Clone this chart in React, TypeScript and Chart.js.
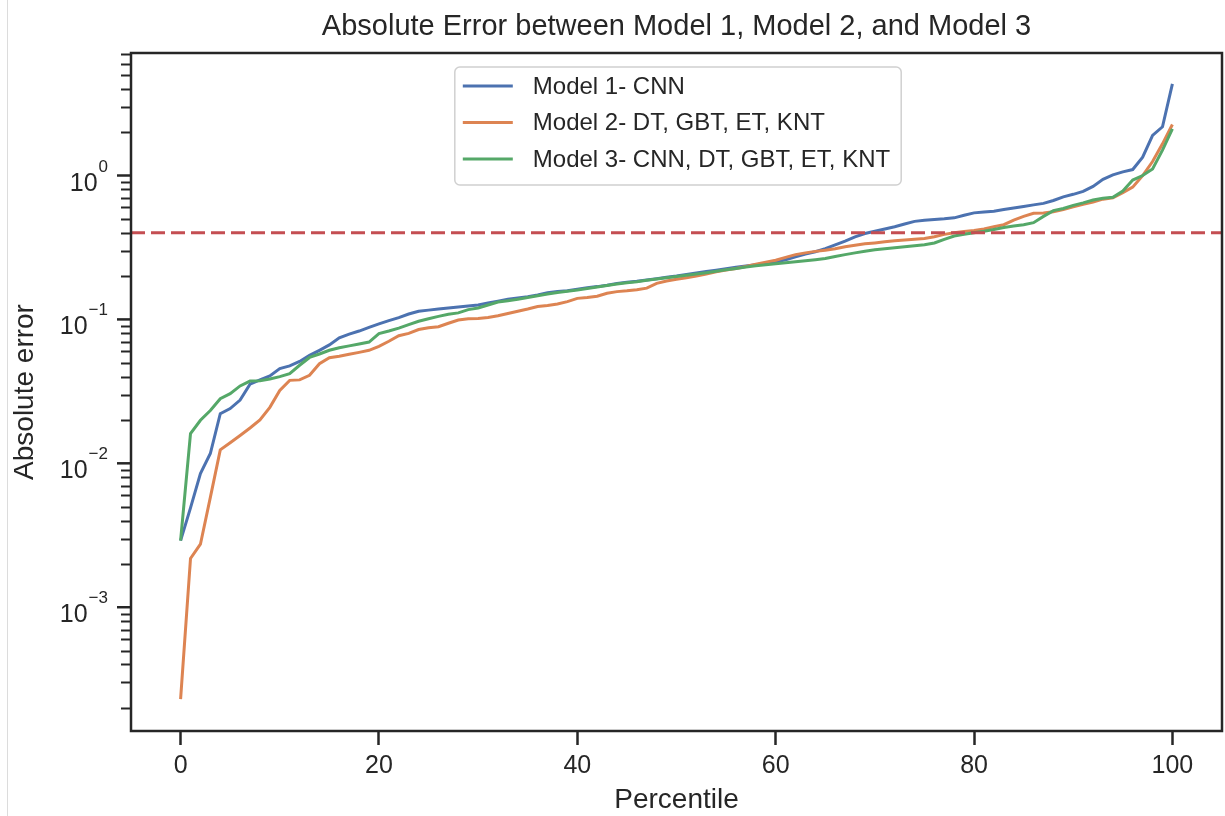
import React, { useEffect, useRef } from "react";
import { Chart, registerables } from "chart.js";

Chart.register(...registerables);

const FONT = "'Liberation Sans', Arial, Helvetica, sans-serif";
const AXIS_COLOR = "#262626";

const TITLE = "Absolute Error between Model 1, Model 2, and Model 3";
const X_TITLE = "Percentile";
const Y_TITLE = "Absolute error";

const PERCENTILES = [
  0, 1, 2, 3, 4, 5, 6, 7, 8, 9, 10, 11, 12, 13, 14, 15, 16, 17, 18, 19,
  20, 21, 22, 23, 24, 25, 26, 27, 28, 29, 30, 31, 32, 33, 34, 35, 36, 37, 38, 39,
  40, 41, 42, 43, 44, 45, 46, 47, 48, 49, 50, 51, 52, 53, 54, 55, 56, 57, 58, 59,
  60, 61, 62, 63, 64, 65, 66, 67, 68, 69, 70, 71, 72, 73, 74, 75, 76, 77, 78, 79,
  80, 81, 82, 83, 84, 85, 86, 87, 88, 89, 90, 91, 92, 93, 94, 95, 96, 97, 98, 99,
  100,
];

const MODEL1 = [
  0.0029, 0.0049, 0.0085, 0.0117, 0.0221, 0.024, 0.0275, 0.0355, 0.038, 0.0405,
  0.0455, 0.0475, 0.051, 0.0562, 0.061, 0.0665, 0.0745, 0.079, 0.083, 0.088,
  0.093, 0.098, 0.103, 0.109, 0.114, 0.116, 0.118, 0.12, 0.122, 0.124,
  0.126, 0.13, 0.134, 0.138, 0.141, 0.144, 0.148, 0.153, 0.156, 0.158,
  0.162, 0.166, 0.169, 0.173, 0.178, 0.181, 0.184, 0.188, 0.192, 0.196,
  0.2, 0.205, 0.21, 0.215, 0.22, 0.225, 0.23, 0.235, 0.24, 0.245,
  0.25, 0.26, 0.272, 0.285, 0.295, 0.31, 0.33, 0.35, 0.375, 0.395,
  0.41, 0.425, 0.44, 0.46, 0.48, 0.488, 0.494, 0.5, 0.508, 0.53,
  0.55, 0.558, 0.565, 0.58, 0.595, 0.61, 0.625, 0.64, 0.67, 0.71,
  0.74, 0.775, 0.84, 0.94, 1.01, 1.06, 1.1, 1.34, 1.9, 2.18,
  4.33,
];

const MODEL2 = [
  0.00023, 0.00218, 0.00274, 0.0058, 0.0124, 0.0139, 0.0156, 0.0176, 0.02, 0.0245,
  0.0321, 0.0377, 0.038, 0.0409, 0.0492, 0.0542, 0.0555, 0.0572, 0.059, 0.061,
  0.065, 0.0705, 0.077, 0.08, 0.085, 0.0875, 0.089, 0.094, 0.099, 0.101,
  0.1015, 0.103, 0.106, 0.11, 0.114, 0.118, 0.123, 0.125, 0.128, 0.133,
  0.14, 0.142, 0.145, 0.152, 0.156, 0.158, 0.161, 0.165, 0.178, 0.185,
  0.19, 0.195, 0.2, 0.207, 0.214, 0.22, 0.226, 0.233, 0.242, 0.25,
  0.258, 0.27, 0.282, 0.29, 0.297, 0.302, 0.31, 0.32, 0.328, 0.335,
  0.34, 0.346, 0.352, 0.356, 0.36, 0.365, 0.375, 0.39, 0.4, 0.408,
  0.415, 0.425, 0.44, 0.455, 0.49, 0.52, 0.547, 0.548, 0.56, 0.58,
  0.605, 0.63, 0.655, 0.685, 0.7, 0.76, 0.83, 1.0, 1.25, 1.66,
  2.26,
];

const MODEL3 = [
  0.0029, 0.0161, 0.0199, 0.0233, 0.0281, 0.0305, 0.0345, 0.0373, 0.0375, 0.0385,
  0.04, 0.042, 0.048, 0.0544, 0.0575, 0.061, 0.0635, 0.0655, 0.0675, 0.0696,
  0.0796, 0.083, 0.087, 0.092, 0.097, 0.101, 0.105, 0.1085, 0.111, 0.117,
  0.12, 0.126, 0.132, 0.135, 0.138, 0.142, 0.146, 0.15, 0.154, 0.157,
  0.16, 0.164, 0.168, 0.172, 0.176, 0.18, 0.183, 0.187, 0.191, 0.195,
  0.199, 0.203, 0.207, 0.211, 0.216, 0.221, 0.226, 0.231, 0.236, 0.24,
  0.244, 0.248, 0.252, 0.256, 0.26, 0.265, 0.274, 0.282, 0.29, 0.298,
  0.305, 0.31, 0.315, 0.32, 0.325, 0.33, 0.34, 0.36, 0.38, 0.39,
  0.4, 0.41, 0.422, 0.435, 0.445, 0.455, 0.47, 0.52, 0.57, 0.59,
  0.62, 0.645, 0.675, 0.695, 0.705, 0.78, 0.93, 1.0, 1.11, 1.5,
  2.11,
];

const THRESHOLD = 0.4;

const SERIES_LABELS = [
  "Model 1- CNN",
  "Model 2- DT, GBT, ET, KNT",
  "Model 3- CNN, DT, GBT, ET, KNT",
];
const SERIES_COLORS = ["#4c72b0", "#dd8452", "#55a868"];
const THRESHOLD_COLOR = "#c44e52";

const X_MIN = -5;
const X_MAX = 105;
const X_TICKS = [0, 20, 40, 60, 80, 100];
const Y_MIN = 1.38e-4;
const Y_MAX = 7.1;
const Y_MAJOR_TICKS = [1e-3, 1e-2, 1e-1, 1];
const Y_MAJOR_EXPONENTS = ["\u22123", "\u22122", "\u22121", "0"];
const Y_MINOR_DECADES = [1e-4, 1e-3, 1e-2, 1e-1, 1];
const Y_MINOR_MULTIPLIERS = [2, 3, 4, 5, 6, 7, 8, 9];

const decorPlugin = {
  id: "decor",
  afterDraw(chart: any) {
    const { ctx, chartArea: ca, scales } = chart;
    const ys = scales.y;
    ctx.save();

    // frame
    ctx.strokeStyle = AXIS_COLOR;
    ctx.lineWidth = 2.5;
    ctx.strokeRect(ca.left, ca.top, ca.right - ca.left, ca.bottom - ca.top);

    // y minor ticks
    ctx.lineWidth = 2;
    for (const d of Y_MINOR_DECADES) {
      for (const m of Y_MINOR_MULTIPLIERS) {
        const v = d * m;
        if (v < ys.min || v > ys.max) continue;
        const py = Math.round(ys.getPixelForValue(v)) + 0.5;
        ctx.beginPath();
        ctx.moveTo(ca.left - 10, py);
        ctx.lineTo(ca.left, py);
        ctx.stroke();
      }
    }
    // y major ticks and labels
    ctx.lineWidth = 2.5;
    ctx.fillStyle = AXIS_COLOR;
    ctx.textBaseline = "alphabetic";
    ctx.textAlign = "left";
    Y_MAJOR_TICKS.forEach((v, i) => {
      const py = ys.getPixelForValue(v);
      ctx.beginPath();
      ctx.moveTo(ca.left - 14, py);
      ctx.lineTo(ca.left, py);
      ctx.stroke();
      const exp = Y_MAJOR_EXPONENTS[i];
      ctx.font = `25px ${FONT}`;
      const wBase = ctx.measureText("10").width;
      ctx.font = `17px ${FONT}`;
      const wExp = ctx.measureText(exp).width;
      const right = ca.left - 24;
      const x0 = right - wExp - wBase;
      ctx.font = `25px ${FONT}`;
      ctx.fillText("10", x0, py + 15);
      ctx.font = `17px ${FONT}`;
      ctx.fillText(exp, x0 + wBase + 1, py - 4);
    });

    // legend
    ctx.font = `24px ${FONT}`;
    const textW = Math.max(...SERIES_LABELS.map((t) => ctx.measureText(t).width));
    const boxW = 78 + textW + 11;
    const boxH = 118;
    const cx = (ca.left + ca.right) / 2 + 1.5;
    const bx = cx - boxW / 2;
    const by = ca.top + 14;
    const r = 5;
    ctx.beginPath();
    ctx.moveTo(bx + r, by);
    ctx.lineTo(bx + boxW - r, by);
    ctx.arcTo(bx + boxW, by, bx + boxW, by + r, r);
    ctx.lineTo(bx + boxW, by + boxH - r);
    ctx.arcTo(bx + boxW, by + boxH, bx + boxW - r, by + boxH, r);
    ctx.lineTo(bx + r, by + boxH);
    ctx.arcTo(bx, by + boxH, bx, by + boxH - r, r);
    ctx.lineTo(bx, by + r);
    ctx.arcTo(bx, by, bx + r, by, r);
    ctx.closePath();
    ctx.fillStyle = "rgba(255,255,255,0.85)";
    ctx.fill();
    ctx.strokeStyle = "#d0d0d0";
    ctx.lineWidth = 1.5;
    ctx.stroke();

    ctx.textBaseline = "middle";
    SERIES_LABELS.forEach((label, i) => {
      const ry = by + 19 + i * 36.5;
      ctx.strokeStyle = SERIES_COLORS[i];
      ctx.lineWidth = 3;
      ctx.beginPath();
      ctx.moveTo(bx + 8, ry);
      ctx.lineTo(bx + 58, ry);
      ctx.stroke();
      ctx.fillStyle = AXIS_COLOR;
      ctx.fillText(label, bx + 78, ry + 1);
    });

    ctx.restore();
  },
};

export default function App() {
  const canvasRef = useRef<HTMLCanvasElement | null>(null);

  useEffect(() => {
    const canvas = canvasRef.current;
    if (!canvas) return;
    const seriesList = [MODEL1, MODEL2, MODEL3];
    const datasets: any[] = seriesList.map((vals, si) => ({
      label: SERIES_LABELS[si],
      data: PERCENTILES.map((p, i) => ({ x: p, y: vals[i] })),
      borderColor: SERIES_COLORS[si],
      backgroundColor: SERIES_COLORS[si],
      borderWidth: 3,
      pointRadius: 0,
      tension: 0,
      fill: false,
      order: 3 - si,
    }));
    datasets.push({
      label: "threshold",
      data: [
        { x: X_MIN, y: THRESHOLD },
        { x: X_MAX, y: THRESHOLD },
      ],
      borderColor: THRESHOLD_COLOR,
      borderWidth: 3,
      borderDash: [14, 6],
      pointRadius: 0,
      fill: false,
      order: 0,
    });

    const chart = new Chart(canvas, {
      type: "line",
      data: { datasets },
      options: {
        animation: false,
        responsive: false,
        devicePixelRatio: 1,
        layout: { padding: { left: 0, right: 3, top: 0, bottom: 0 } },
        plugins: {
          legend: { display: false },
          tooltip: { enabled: false },
          title: {
            display: true,
            fullSize: false,
            text: TITLE,
            color: AXIS_COLOR,
            font: { family: FONT, size: 29, weight: "normal", lineHeight: 1.2 },
            padding: { top: 10, bottom: 8.2 },
          },
        },
        scales: {
          x: {
            type: "linear",
            min: X_MIN,
            max: X_MAX,
            afterBuildTicks: (scale: any) => {
              scale.ticks = X_TICKS.map((v) => ({ value: v }));
            },
            afterFit: (scale: any) => {
              scale.height = 85;
            },
            ticks: {
              color: AXIS_COLOR,
              font: { family: FONT, size: 25 },
              padding: 6,
              maxRotation: 0,
              autoSkip: false,
            },
            grid: {
              display: true,
              drawOnChartArea: false,
              drawTicks: true,
              tickLength: 14,
              tickWidth: 2.5,
              tickColor: AXIS_COLOR,
            },
            border: { display: false },
            title: {
              display: true,
              text: X_TITLE,
              color: AXIS_COLOR,
              font: { family: FONT, size: 28, lineHeight: 1.12 },
              padding: { top: 0, bottom: 0 },
            },
          },
          y: {
            type: "logarithmic",
            min: Y_MIN,
            max: Y_MAX,
            afterFit: (scale: any) => {
              scale.width = 131;
            },
            ticks: { display: false },
            grid: { display: false },
            border: { display: false },
            title: {
              display: true,
              text: Y_TITLE,
              color: AXIS_COLOR,
              font: { family: FONT, size: 28, lineHeight: 1.12 },
              padding: { top: 9.5, bottom: 0 },
            },
          },
        },
      } as any,
      plugins: [decorPlugin],
    });
    return () => chart.destroy();
  }, []);

  return (
    <div
      style={{
        position: "absolute",
        left: 0,
        top: 0,
        width: 1225,
        height: 816,
        background: "#ffffff",
      }}
    >
      <div
        style={{
          position: "absolute",
          left: 7,
          top: 0,
          width: 1,
          height: 816,
          background: "#dcdcdc",
        }}
      />
      <canvas
        ref={canvasRef}
        width={1225}
        height={816}
        style={{ position: "absolute", left: 0, top: 0 }}
      />
    </div>
  );
}
